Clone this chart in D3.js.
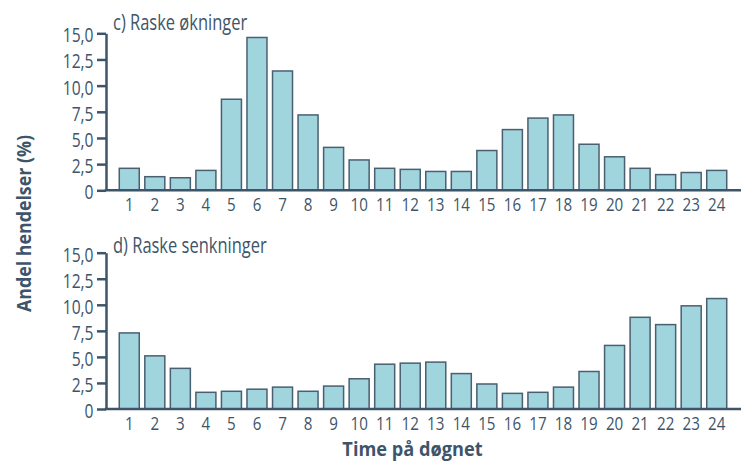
<!DOCTYPE html>
<html>
<head>
<meta charset="utf-8">
<script src="https://cdn.jsdelivr.net/npm/d3@7"></script>
<style>
  html, body { margin: 0; padding: 0; background: #ffffff; }
  svg { display: block; }
  text { font-family: "Open Sans", "Noto Sans", sans-serif; fill: #3e5569; }
</style>
</head>
<body>
<svg id="chart" width="741" height="464"></svg>
<script>
// Hours of the day (x categories)
const hours = d3.range(1, 25).map(String);

// Share of events (%) per hour
const rapidIncreases = [2.1, 1.3, 1.2, 1.9, 8.7, 14.6, 11.4, 7.2, 4.1, 2.9, 2.1, 2.0,
                        1.8, 1.8, 3.8, 5.8, 6.9, 7.2, 4.4, 3.2, 2.1, 1.5, 1.7, 1.9];
const rapidDecreases = [7.3, 5.1, 3.9, 1.6, 1.7, 1.9, 2.1, 1.7, 2.2, 2.9, 4.3, 4.4,
                        4.5, 3.4, 2.4, 1.5, 1.6, 2.1, 3.6, 6.1, 8.8, 8.1, 9.9, 10.6];

// Y tick values and their labels (Norwegian decimal comma)
const yTicks = [0, 2.5, 5, 7.5, 10, 12.5, 15];
const yTickLabels = ["0", "2,5", "5,0", "7,5", "10,0", "12,5", "15,0"];

const panelTitles = ["c) Raske økninger", "d) Raske senkninger"];
const yTitle = "Andel hendelser (%)";
const xTitle = "Time på døgnet";

const ink = "#3e5569";
const barFill = "#a0d5de";
const barStroke = "#4a5f70";

const svg = d3.select("#chart");

// Squeeze text horizontally around its anchor point for a condensed look
function condense(sel, k) {
  sel.each(function () {
    const t = d3.select(this);
    const tx = +t.attr("x") || 0, ty = +t.attr("y") || 0;
    const base = t.attr("transform") || "";
    t.attr("x", 0).attr("y", 0)
     .attr("transform", `${base} translate(${tx},${ty}) scale(${k},1)`);
  });
}

const x = d3.scaleBand()
  .domain(hours)
  .range([116.5, 729.5])
  .paddingInner(0.217)
  .paddingOuter(0.1085);

const axisX = 106;

const panels = [
  { title: panelTitles[0], values: rapidIncreases, y0: 190.3, y1: 33.3, titleY: 30 },
  { title: panelTitles[1], values: rapidDecreases, y0: 409, y1: 252.7, titleY: 252.5 }
];

panels.forEach(p => {
  const y = d3.scaleLinear().domain([0, 15]).range([p.y0, p.y1]);
  const g = svg.append("g");

  // bars
  g.selectAll("rect")
    .data(p.values)
    .join("rect")
    .attr("x", (d, i) => x(hours[i]))
    .attr("y", d => y(d))
    .attr("width", x.bandwidth())
    .attr("height", d => y(0) - y(d))
    .attr("fill", barFill)
    .attr("stroke", barStroke)
    .attr("stroke-width", 1.5);

  // y axis
  const yAxis = d3.axisLeft(y)
    .tickValues(yTicks)
    .tickFormat((d, i) => yTickLabels[i])
    .tickSize(9)
    .tickPadding(3.5)
    .tickSizeOuter(0);
  const ya = g.append("g")
    .attr("transform", `translate(${axisX},0)`)
    .call(yAxis);
  ya.select(".domain").attr("stroke", ink).attr("stroke-width", 2.5);
  ya.selectAll(".tick line").attr("stroke", ink).attr("stroke-width", 2.5);
  ya.selectAll(".tick text")
    .attr("fill", ink)
    .attr("dy", "0.42em")
    .style("font-size", "20px")
    .call(condense, 0.78);

  // x baseline and hour labels
  g.append("line")
    .attr("x1", axisX - 1.25).attr("x2", 741)
    .attr("y1", y(0)).attr("y2", y(0))
    .attr("stroke", ink).attr("stroke-width", 2.5);

  g.selectAll("text.hour")
    .data(hours)
    .join("text")
    .attr("class", "hour")
    .attr("x", d => x(d) + x.bandwidth() / 2)
    .attr("y", y(0) + 20.5)
    .attr("text-anchor", "middle")
    .style("font-size", "18.5px")
    .text(d => d)
    .call(condense, 0.82);

  // panel title
  g.append("text")
    .attr("x", 113)
    .attr("y", p.titleY)
    .style("font-size", "21px")
    .text(p.title)
    .call(condense, 0.785);
});

// axis titles
svg.append("text")
  .attr("transform", "translate(31,223.5) rotate(-90)")
  .attr("text-anchor", "middle")
  .style("font-size", "20px")
  .style("font-weight", "bold")
  .text(yTitle)
  .call(condense, 0.89);

svg.append("text")
  .attr("x", 412.5)
  .attr("y", 456)
  .attr("text-anchor", "middle")
  .style("font-size", "20px")
  .style("font-weight", "bold")
  .text(xTitle)
  .call(condense, 0.91);
</script>
</body>
</html>
